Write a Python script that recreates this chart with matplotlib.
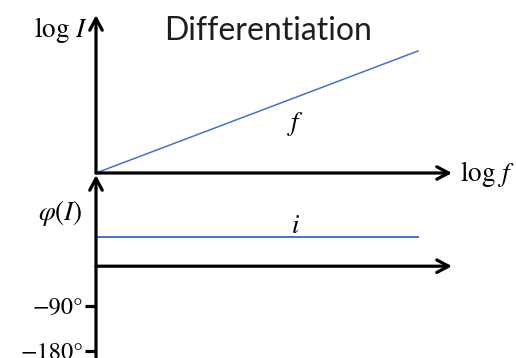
import matplotlib.pyplot as plt

# Bode-style sketch of a differentiator: magnitude rises with frequency,
# phase stays constant.
log_f = [0.0, 1.0]
log_I = [0.0, 1.0]
phase_i = [47.0, 47.0]
phase_ticks = [-90, -180]
phase_labels = ["−90°", "−180°"]

plt.rcParams['mathtext.fontset'] = 'stix'

fig = plt.figure(figsize=(5.16, 3.58), dpi=100)

# upper panel: log I versus log f
ax1 = fig.add_axes([0, 0, 1, 1])
ax1.set_xlim(-96 / 322, 420 / 322)
ax1.set_ylim(-185 / 122, 173 / 122)
ax1.axis('off')

# lower panel: phase in degrees, same frequency axis
ax2 = fig.add_axes([0, 0, 1, 1], sharex=ax1)
ax2.set_ylim(-194.6, 521.4)
ax2.patch.set_visible(False)
for s in ax2.spines.values():
    s.set_visible(False)
ax2.tick_params(axis='x', bottom=False, labelbottom=False)

blue = '#4472C4'
arrow = dict(arrowstyle='->,head_length=0.85,head_width=0.45',
             color='black', lw=2.3, shrinkA=0, shrinkB=0, mutation_scale=10)
x_end = 356 / 322

# magnitude axes
ax1.annotate('', xy=(0, 158 / 122), xytext=(0, 0), arrowprops=arrow)
ax1.annotate('', xy=(x_end, 0), xytext=(0, 0), arrowprops=arrow)
ax1.plot(log_f, log_I, color=blue, lw=1.1)
ax1.text(0.62, 0.40, r'$f$', fontsize=19, ha='center', va='center')
ax1.text(-0.025, 1.17, r'$\log\,I$', fontsize=19.5, ha='right', va='center')
ax1.text(1.13, -0.01, r'$\log\,f$', fontsize=19.5, ha='left', va='center')
ax1.text(0.535, 1.16, 'Differentiation', fontsize=23, family='Lato',
         ha='center', va='center', color='#1e1e1e')

# phase axes
ax2.annotate('', xy=(0, 171.4), xytext=(0, -200), arrowprops=arrow)
ax2.annotate('', xy=(x_end, -11), xytext=(0, -11), arrowprops=arrow)
ax2.plot(log_f, phase_i, color=blue, lw=1.4)
ax2.text(0.62, 69, r'$i$', fontsize=19, ha='center', va='center')
ax2.text(-0.11, 95, r'$\varphi(I)$', fontsize=19.5, ha='center', va='center')

ax2.spines['left'].set_position(('data', 0))
ax2.set_yticks(phase_ticks)
ax2.set_yticklabels(phase_labels, family='STIXGeneral', fontsize=17.5)
ax2.tick_params(axis='y', direction='out', length=8, width=2.3, pad=1,
                colors='black')

fig.savefig('out.png', dpi=100)
